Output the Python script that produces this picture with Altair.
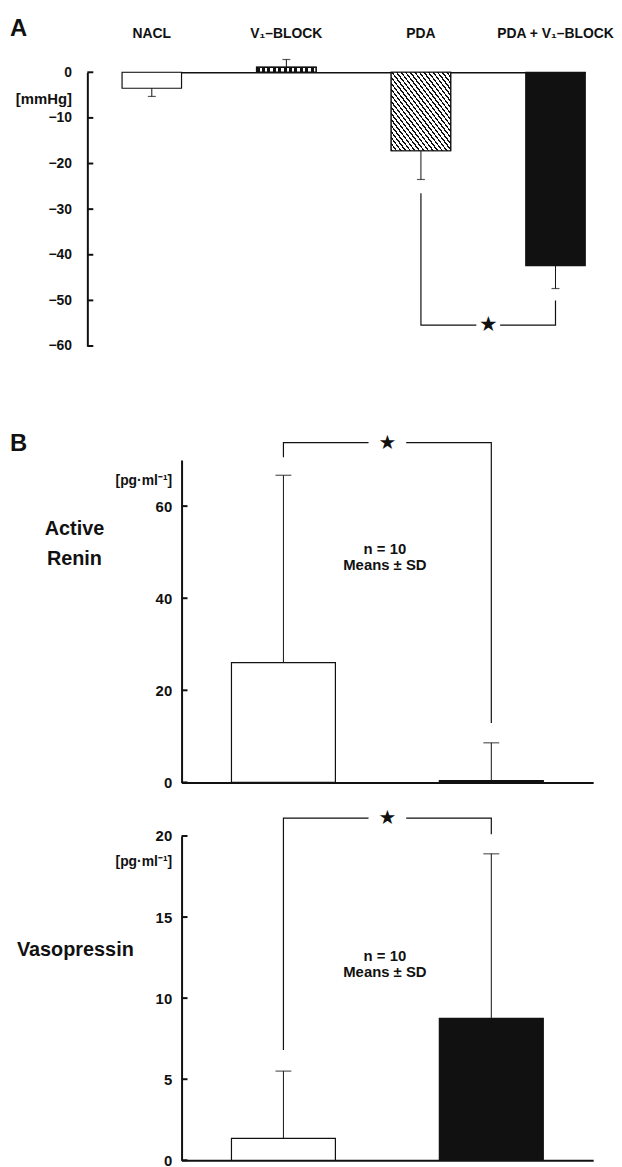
import numpy as np
import pandas as pd
import altair as alt

FONT = "Liberation Sans"
STAR_FONT = "DejaVu Sans"
INK = "#111111"

# ---------------- data ----------------
a_groups = ["NACL", "V₁–BLOCK", "PDA", "PDA + V₁–BLOCK"]
a_mean = [-3.5, 1.1, -17.2, -42.4]
a_sd = [1.8, 1.7, 6.3, 5.0]
a_ticks = [0, -10, -20, -30, -40, -50, -60]
a_bracket_groups = ["PDA", "PDA", "PDA + V₁–BLOCK", "PDA + V₁–BLOCK"]
a_bracket_y = [-26.5, -55.4, -55.4, -50.0]

b_groups = ["PDA", "PDA + V₁–BLOCK"]
b_bracket_groups = [b_groups[0], b_groups[0], b_groups[1], b_groups[1]]

renin_mean = [26.0, 0.4]
renin_sd = [40.7, 8.2]
renin_ticks = [0, 20, 40, 60]
renin_bracket_y = [70.6, 73.8, 73.8, 12.9]

vaso_mean = [1.35, 8.75]
vaso_sd = [4.15, 10.15]
vaso_ticks = [0, 5, 10, 15, 20]
vaso_bracket_y = [6.8, 21.1, 21.1, 20.1]

UNIT_B = "[pg·ml⁻¹]"


# ---------------- styles ----------------
def stripes(n, dark, x1, y1, x2, y2):
    stops = []
    for k in range(n):
        a, b, c = k / n, (k + dark) / n, (k + 1) / n
        stops += [{"offset": a, "color": INK}, {"offset": b, "color": INK},
                  {"offset": b, "color": "white"}, {"offset": min(c, 1.0), "color": "white"}]
    return {"gradient": "linear", "x1": x1, "y1": y1, "x2": x2, "y2": y2, "stops": stops}


HATCH = stripes(26, 0.35, 0, 1, 1, 0)
DOTS = stripes(11, 0.55, 0, 0, 1, 0)
BOX_SHAPE = "M-1,-0.3H1V0.3H-1Z"


def text_layer(txt, x, y, size, align="left", line_height=None):
    props = dict(font=FONT, fontSize=size, fontWeight="bold", color=INK,
                 align=align, baseline="alphabetic")
    if line_height:
        props.update(lineBreak="\n", lineHeight=line_height)
    return alt.Chart(pd.DataFrame({"t": [txt]})).mark_text(**props).encode(
        text="t:N", x=alt.value(x), y=alt.value(y))


W = 510

# ---------------- panel A ----------------
HA = 276
pi_a, po_a = 0.558, 0.0
range_a = [35, 502]
step_a = (range_a[1] - range_a[0]) / (len(a_groups) - pi_a + 2 * po_a)

dfA = pd.DataFrame({"g": a_groups, "m": a_mean, "sd": a_sd})
dfA["end"] = dfA["m"] + np.sign(dfA["m"]) * dfA["sd"]

xA = alt.X("g:N", scale=alt.Scale(domain=a_groups, range=range_a,
                                  paddingInner=pi_a, paddingOuter=po_a),
           axis=alt.Axis(orient="top", title=None, labelAngle=0, ticks=False, tickSize=0,
                         labelPadding=32, domainColor=INK, domainWidth=1.5,
                         labelFont=FONT, labelFontWeight="bold", labelFontSize=14,
                         labelColor=INK))
yA = alt.Y("m:Q", scale=alt.Scale(domain=[-60, 0], nice=False, zero=False),
           axis=alt.Axis(values=a_ticks, ticks=False, tickSize=0, labelPadding=16,
                         domainColor=INK, domainWidth=2, grid=False, labelFlush=False,
                         labelFont=FONT, labelFontSize=14, labelFontWeight="bold",
                         labelColor=INK, title="[mmHg]", titleAngle=0, titleX=-16,
                         titleY=26, titleAlign="right", titleBaseline="middle",
                         titleFont=FONT, titleFontSize=15, titleFontWeight="bold",
                         titleColor=INK))

baseA = alt.Chart(dfA)
barsA = baseA.mark_bar(stroke=INK, strokeWidth=1.2).encode(
    x=xA, y=yA, y2=alt.datum(0),
    fill=alt.Fill("g:N", scale=alt.Scale(domain=a_groups,
                                         range=["white", "white", "white", INK]),
                  legend=None))
v1A = baseA.transform_filter(alt.FieldEqualPredicate(field="g", equal=a_groups[1])).mark_bar(
    fill=DOTS, stroke=INK, strokeWidth=1.5).encode(x=xA, y="m:Q", y2=alt.datum(0))
pdaA = baseA.transform_filter(alt.FieldEqualPredicate(field="g", equal=a_groups[2])).mark_bar(
    fill=HATCH, stroke=INK, strokeWidth=1.2).encode(x=xA, y="m:Q", y2=alt.datum(0))
errA = baseA.mark_rule(color=INK, strokeWidth=1).encode(x=xA, y="m:Q", y2="end:Q")
capA = baseA.mark_tick(color=INK, size=8, thickness=1.2, orient="horizontal").encode(
    x=xA, y="end:Q")
ticksA = alt.Chart(pd.DataFrame({"m": a_ticks})).mark_rule(color=INK, strokeWidth=2).encode(
    y="m:Q", x=alt.value(0), x2=alt.value(6))
brA = alt.Chart(pd.DataFrame({"g": a_bracket_groups, "m": a_bracket_y,
                              "i": list(range(len(a_bracket_y)))})).mark_line(
    color=INK, strokeWidth=1.2).encode(x=xA, y="m:Q", order="i:O")
starA_df = pd.DataFrame({"g": [a_bracket_groups[1]], "m": [a_bracket_y[1]]})
boxA = alt.Chart(starA_df).mark_point(shape=BOX_SHAPE, filled=True, color="white",
                                      opacity=1, size=24 * 24, strokeWidth=0,
                                      xOffset=step_a / 2).encode(x=xA, y="m:Q")
starA = alt.Chart(starA_df).mark_text(text="★", font=STAR_FONT, fontSize=21, color=INK,
                                      align="center", baseline="middle",
                                      xOffset=step_a / 2).encode(x=xA, y="m:Q")
letterA = text_layer("A", -78, -37, 24)

panelA = alt.layer(barsA, v1A, pdaA, errA, capA, ticksA, brA, boxA, starA, letterA).properties(
    width=W, height=HA)


# ---------------- panel B ----------------
range_b = [95, 510]
pi_b, po_b = 0.5, 0.24
step_b = (range_b[1] - range_b[0]) / (len(b_groups) - pi_b + 2 * po_b)


def panel_b(mean, sd, ticks, ymax, H, bracket_y, unit_y, name, name_x, name_y, name_align,
            name_lh, note_y, letter=None):
    df = pd.DataFrame({"g": b_groups, "m": mean, "sd": sd})
    df["end"] = df["m"] + df["sd"]
    x = alt.X("g:N", scale=alt.Scale(domain=b_groups, range=range_b,
                                     paddingInner=pi_b, paddingOuter=po_b),
              axis=alt.Axis(orient="bottom", title=None, labels=False, ticks=False,
                            tickSize=0, domainColor=INK, domainWidth=2))
    y = alt.Y("m:Q", scale=alt.Scale(domain=[0, ymax], nice=False),
              axis=alt.Axis(values=ticks, offset=-range_b[0], ticks=False, tickSize=0,
                            labelPadding=10, domainColor=INK, domainWidth=2, grid=False,
                            labelFlush=False, labelFont=FONT, labelFontSize=15,
                            labelFontWeight="bold", labelColor=INK, title=UNIT_B,
                            titleAngle=0, titleX=-10, titleY=unit_y, titleAlign="right",
                            titleBaseline="middle", titleFont=FONT, titleFontSize=14,
                            titleFontWeight="bold", titleColor=INK))
    base = alt.Chart(df)
    bars = base.mark_bar(stroke=INK, strokeWidth=1.2).encode(
        x=x, y=y, y2=alt.datum(0),
        fill=alt.Fill("g:N", scale=alt.Scale(domain=b_groups, range=["white", INK]),
                      legend=None))
    err = base.mark_rule(color=INK, strokeWidth=1).encode(x=x, y="m:Q", y2="end:Q")
    cap = base.mark_tick(color=INK, size=16, thickness=1.2, orient="horizontal").encode(
        x=x, y="end:Q")
    tk = alt.Chart(pd.DataFrame({"m": ticks})).mark_rule(color=INK, strokeWidth=2).encode(
        y="m:Q", x=alt.value(range_b[0]), x2=alt.value(range_b[0] + 6))
    br = alt.Chart(pd.DataFrame({"g": b_bracket_groups, "m": bracket_y,
                                 "i": list(range(len(bracket_y)))})).mark_line(
        color=INK, strokeWidth=1.2).encode(x=x, y="m:Q", order="i:O")
    sdf = pd.DataFrame({"g": [b_bracket_groups[1]], "m": [bracket_y[1]]})
    box = alt.Chart(sdf).mark_point(shape=BOX_SHAPE, filled=True, color="white", opacity=1,
                                    size=38 * 38, strokeWidth=0,
                                    xOffset=step_b / 2).encode(x=x, y="m:Q")
    star = alt.Chart(sdf).mark_text(text="★", font=STAR_FONT, fontSize=20, color=INK,
                                    align="center", baseline="middle",
                                    xOffset=step_b / 2).encode(x=x, y="m:Q")
    layers = [bars, err, cap, tk, br, box, star,
              text_layer(name, name_x, name_y, 20, align=name_align, line_height=name_lh),
              text_layer("n = 10\nMeans ± SD", 300, note_y, 15, align="center",
                         line_height=16)]
    if letter:
        layers.append(text_layer(letter, -78, -9, 24))
    return alt.layer(*layers).properties(width=W, height=H)


panelB1 = panel_b(renin_mean, renin_sd, renin_ticks, 70, 325, renin_bracket_y, 21,
                  "Active\nRenin", -13, 76, "center", 30, 95, letter="B")
panelB2 = panel_b(vaso_mean, vaso_sd, vaso_ticks, 20, 327, vaso_bracket_y, 26,
                  "Vasopressin", -71, 121, "left", None, 126)

panelB = alt.vconcat(panelB1, panelB2, spacing=18).resolve_scale(
    x="independent", y="independent", fill="independent")

chart = alt.vconcat(panelA, panelB, spacing=80).resolve_scale(
    x="independent", y="independent", fill="independent").properties(
    padding={"left": 2, "top": 4, "right": 0, "bottom": 0},
    background="white").configure_view(stroke=None)

chart.save("out.html", embed_options={"renderer": "svg", "actions": False})
